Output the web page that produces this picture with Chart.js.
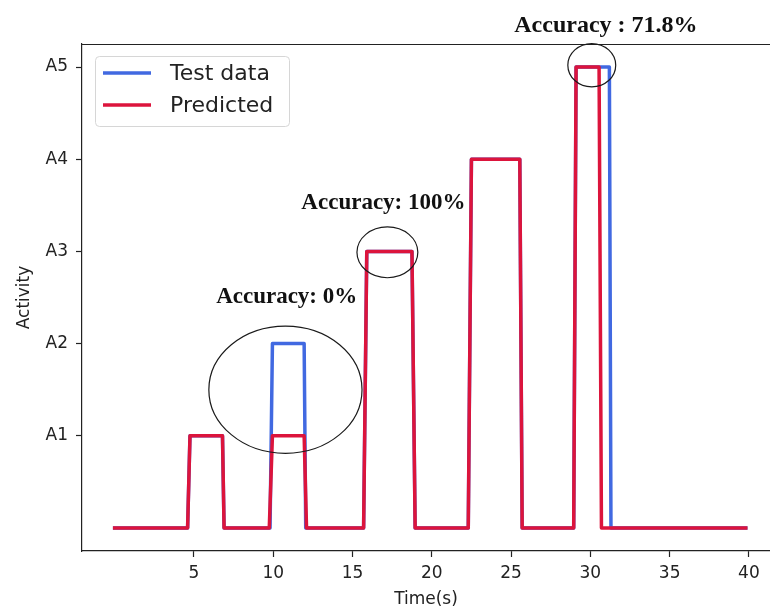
<!DOCTYPE html>
<html>
<head>
<meta charset="utf-8">
<script src="https://cdn.jsdelivr.net/npm/chart.js@4.4.1/dist/chart.umd.min.js"></script>
<style>
  body { margin: 0; background: #fff; overflow: hidden; }
  #wrap { width: 770px; height: 613px; }
</style>
</head>
<body>
<div id="wrap"><canvas id="chart" width="770" height="613"></canvas></div>
<script>
// step signals (time in s, activity level 0..5)
const testTime = [0, 4.6, 4.75, 6.8, 6.9, 9.8, 9.95, 11.95, 12.05, 15.7, 15.9, 18.75, 18.95, 22.3, 22.5, 25.55, 25.7, 28.95, 29.1, 31.2, 31.3, 39.8];
const testVal  = [0, 0,   1,    1,   0,   0,   2,    2,     0,     0,    3,    3,     0,     0,    4,    4,     0,    0,     5,    5,    0,    0];
const predTime = [0, 4.6, 4.75, 6.8, 6.9, 9.75, 9.95, 11.95, 12.1, 15.7, 15.9, 18.75, 18.95, 22.3, 22.5, 25.55, 25.7, 28.95, 29.1, 30.55, 30.7, 39.8];
const predVal  = [0, 0,   1,    1,   0,   0,    1,    1,     0,    0,    3,    3,     0,     0,    4,    4,     0,    0,     5,    5,     0,    0];

const xTicks = [5, 10, 15, 20, 25, 30, 35, 40];
const yTicks = [1, 2, 3, 4, 5];
const yTickLabels = ["A1", "A2", "A3", "A4", "A5"];

// accuracy notes: text centre and ellipse (centre, radii) in data units
const noteText = ["Accuracy: 0%", "Accuracy: 100%", "Accuracy : 71.8%"];
const noteTextX = [10.85, 16.95, 30.98];
const noteTextY = [2.5, 3.52, 5.45];
const ringX = [10.77, 17.2, 30.09];
const ringY = [1.5, 2.99, 5.02];
const ringRx = [4.83, 1.92, 1.51];
const ringRy = [0.69, 0.276, 0.235];

function toPoints(xs, ys) {
    const pts = [];
    for (let i = 0; i < xs.length; i++) pts.push({ x: xs[i], y: ys[i] });
    return pts;
}

const ink = "#222";

// top spine, like matplotlib's box
const topSpine = {
    id: "topSpine",
    afterDraw(chart) {
        const a = chart.chartArea, ctx = chart.ctx;
        ctx.save();
        ctx.strokeStyle = ink;
        ctx.lineWidth = 1.2;
        ctx.beginPath();
        ctx.moveTo(a.left, a.top + 0.5);
        ctx.lineTo(a.right, a.top + 0.5);
        ctx.stroke();
        ctx.restore();
    }
};

// the legend box in the upper-left corner
const cornerLegend = {
    id: "cornerLegend",
    afterDraw(chart) {
        const ctx = chart.ctx;
        const sets = chart.data.datasets;
        ctx.save();
        ctx.beginPath();
        ctx.roundRect(95.5, 56.5, 194, 70, 4);
        ctx.fillStyle = "rgba(255,255,255,0.8)";
        ctx.fill();
        ctx.strokeStyle = "#d6d6d6";
        ctx.lineWidth = 1;
        ctx.stroke();
        ctx.font = "22px 'DejaVu Sans'";
        ctx.textBaseline = "middle";
        ctx.fillStyle = ink;
        const rows = [73, 105];
        for (let i = 0; i < sets.length; i++) {
            ctx.strokeStyle = sets[i].borderColor;
            ctx.lineWidth = 3.5;
            ctx.beginPath();
            ctx.moveTo(103, rows[i]);
            ctx.lineTo(151, rows[i]);
            ctx.stroke();
            ctx.fillText(sets[i].label, 170, rows[i] + 1);
        }
        ctx.restore();
    }
};

// circled regions and their accuracy notes
const accuracyNotes = {
    id: "accuracyNotes",
    afterDraw(chart) {
        const ctx = chart.ctx, xs = chart.scales.x, ys = chart.scales.y;
        ctx.save();
        ctx.strokeStyle = "#1a1a1a";
        ctx.lineWidth = 1.2;
        for (let i = 0; i < ringX.length; i++) {
            const cx = xs.getPixelForValue(ringX[i]);
            const cy = ys.getPixelForValue(ringY[i]);
            const rx = xs.getPixelForValue(ringX[i] + ringRx[i]) - cx;
            const ry = cy - ys.getPixelForValue(ringY[i] + ringRy[i]);
            ctx.beginPath();
            ctx.ellipse(cx, cy, rx, ry, 0, 0, Math.PI * 2);
            ctx.stroke();
        }
        ctx.fillStyle = "#111";
        ctx.textAlign = "center";
        ctx.textBaseline = "middle";
        for (let i = 0; i < noteText.length; i++) {
            ctx.font = (i == 2 ? "bold 24px" : "bold 23px") + " 'Liberation Serif'";
            ctx.fillText(noteText[i], xs.getPixelForValue(noteTextX[i]), ys.getPixelForValue(noteTextY[i]));
        }
        ctx.restore();
    }
};

const tickFont = { family: "'DejaVu Sans'", size: 17 };

new Chart(document.getElementById("chart"), {
    type: "line",
    data: {
        datasets: [
            {
                label: "Test data",
                data: toPoints(testTime, testVal),
                borderColor: "#4169e1",
                borderWidth: 3.5,
                pointRadius: 0,
                tension: 0,
                borderCapStyle: "square",
                borderJoinStyle: "round",
                order: 2 // drawn under the prediction
            },
            {
                label: "Predicted",
                data: toPoints(predTime, predVal),
                borderColor: "#dc143c",
                borderWidth: 3.5,
                pointRadius: 0,
                tension: 0,
                borderCapStyle: "square",
                borderJoinStyle: "round",
                order: 1
            }
        ]
    },
    options: {
        responsive: false,
        animation: false,
        devicePixelRatio: 1,
        layout: { padding: { top: 44, left: 0, right: 0, bottom: 0 } },
        plugins: {
            legend: { display: false },
            tooltip: { enabled: false }
        },
        scales: {
            x: {
                type: "linear",
                min: -2.06,
                max: 41.33,
                afterBuildTicks: (scale) => { scale.ticks = xTicks.map(v => ({ value: v })); },
                afterFit: (scale) => { scale.height = 62; },
                grid: { drawOnChartArea: false, tickLength: 6, tickColor: ink, tickWidth: 1.2 },
                border: { color: ink, width: 1.2 },
                ticks: { color: ink, font: tickFont, padding: 6, maxRotation: 0, autoSkip: false },
                title: { display: true, text: "Time(s)", color: ink, font: tickFont, padding: { top: 0, bottom: 3 } }
            },
            y: {
                type: "linear",
                min: -0.25,
                max: 5.25,
                afterBuildTicks: (scale) => { scale.ticks = yTicks.map(v => ({ value: v })); },
                afterFit: (scale) => { scale.width = 82; },
                grid: { drawOnChartArea: false, tickLength: 6, tickColor: ink, tickWidth: 1.2 },
                border: { color: ink, width: 1.2 },
                ticks: {
                    color: ink,
                    font: tickFont,
                    padding: 8,
                    autoSkip: false,
                    callback: (v) => yTickLabels[yTicks.indexOf(v)]
                },
                title: { display: true, text: "Activity", color: ink, font: tickFont, padding: { top: 14, bottom: 0 } }
            }
        }
    },
    plugins: [topSpine, accuracyNotes, cornerLegend]
});
</script>
</body>
</html>
